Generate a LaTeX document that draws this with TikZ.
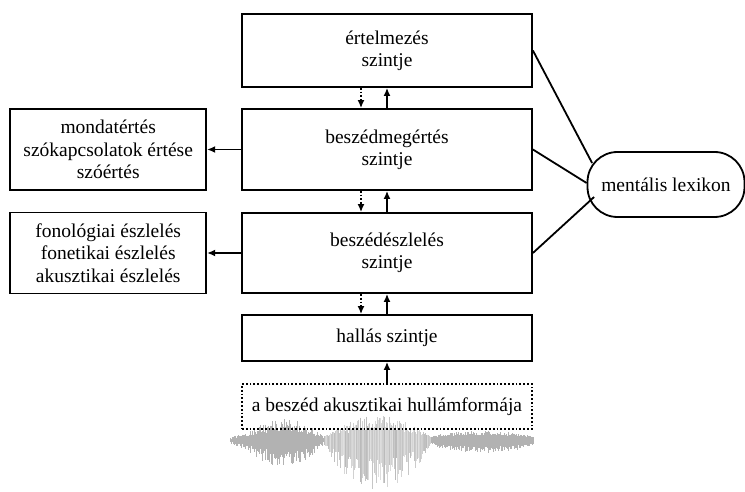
\documentclass[tikz,border=0pt]{standalone}
\usepackage{fontspec}
\setmainfont{Liberation Serif}
\usetikzlibrary{arrows.meta, positioning}
\tikzstyle{level} = [rectangle, minimum width=290pt, inner sep=0pt, text centered, align=center, draw=black, line width=1.8pt]
\tikzstyle{sidebox} = [rectangle, minimum width=196pt, minimum height=81pt, inner sep=0pt, text centered, align=center, draw=black, line width=1.8pt]
\tikzstyle{lexicon} = [rectangle, rounded corners=30pt, minimum width=157pt, minimum height=65pt, inner sep=0pt, draw=black, line width=1.8pt]
\tikzstyle{arrow} = [line width=1.8pt, -{Latex[length=8pt,width=7pt]}]
\tikzstyle{dotarrow} = [arrow, dotted]
\tikzstyle{wave} = [line width=0.8pt]

\begin{document}
\begin{tikzpicture}[
    x=1pt, y=1pt,
    every node/.style={font=\fontsize{19.5}{22.4}\selectfont}
]
\useasboundingbox (0,0) rectangle (745,491);

% waveform
\pgfmathsetseed{42}
\foreach \x in {230,...,533} {
    \ifnum\x<324
        \pgfmathsetmacro\wpos{(\x-229)/95}
        \pgfmathsetmacro\wenv{3+18*sin(180*\wpos^1.3)}
        \pgfmathsetmacro\wup{\wenv*(0.4+0.6*rnd)}
        \pgfmathsetmacro\wdn{1.3*\wenv*(0.4+0.6*rnd)}
        \def\wcol{gray!60}
    \else\ifnum\x<431
        \pgfmathsetmacro\wpos{(\x-323)/108}
        \pgfmathsetmacro\wenv{sin(180*\wpos)}
        \pgfmathsetmacro\wup{3+22*\wenv*(0.3+0.7*rnd)}
        \pgfmathsetmacro\wdn{3+48*(\wenv^0.8)*(0.3+0.7*rnd)}
        \pgfmathsetmacro\wshade{int(25+30*rnd)}
        \edef\wcol{gray!\wshade}
    \else
        \pgfmathsetmacro\wpos{(\x-430)/104}
        \pgfmathsetmacro\wenv{sin(180*\wpos)^0.5}
        \pgfmathsetmacro\wup{2+7*\wenv*(0.4+0.6*rnd)}
        \pgfmathsetmacro\wdn{2+11*\wenv*(0.4+0.6*rnd)}
        \def\wcol{gray!60}
    \fi\fi
    \draw[wave, \wcol] (\x,51+\wup) -- (\x,51-\wdn);
}

% levels
\node[level, minimum height=73pt] (ert) at (387,440.5) {értelmezés\\szintje};
\node[level, minimum height=81pt] (megert) at (387,341.5) {beszédmegértés\\szintje};
\node[level, minimum height=80pt] (eszlel) at (387,238) {beszédészlelés\\szintje};
\node[level, minimum height=46pt] (hallas) at (387,153) {hallás szintje};
\node[level, dotted, minimum height=45pt] (hullam) at (387,84.5) {a beszéd akusztikai hullámformája};

% side boxes
\node[sidebox, left=34pt of megert] (mondat) {mondatértés\\szókapcsolatok értése\\szóértés};
\node[sidebox, left=34pt of eszlel] (fono) {fonológiai észlelés\\fonetikai észlelés\\akusztikai észlelés};

\node[lexicon] (lex) at (666,306.5) {mentális lexikon};

% arrows between levels
\draw[arrow] (megert.north) -- (ert.south);
\draw[arrow] (eszlel.north) -- (megert.south);
\draw[arrow] (hallas.north) -- (eszlel.south);
\draw[arrow] (hullam.north) -- (hallas.south);
\draw[dotarrow] ([xshift=-26pt]ert.south) -- ([xshift=-26pt]megert.north);
\draw[dotarrow] ([xshift=-26pt]megert.south) -- ([xshift=-26pt]eszlel.north);
\draw[dotarrow] ([xshift=-26pt]eszlel.south) -- ([xshift=-26pt]hallas.north);

\draw[arrow] (megert.west) -- (mondat.east);
\draw[arrow] (eszlel.west) -- (fono.east);

% lexicon links
\draw[line width=1.8pt] (ert.east) -- ([shift={(5.5pt,21.5pt)}]lex.west);
\draw[line width=1.8pt] (megert.east) -- ([yshift=1.5pt]lex.west);
\draw[line width=1.8pt] (eszlel.east) -- ([shift={(7.5pt,-12.5pt)}]lex.west);
\end{tikzpicture}
\end{document}
